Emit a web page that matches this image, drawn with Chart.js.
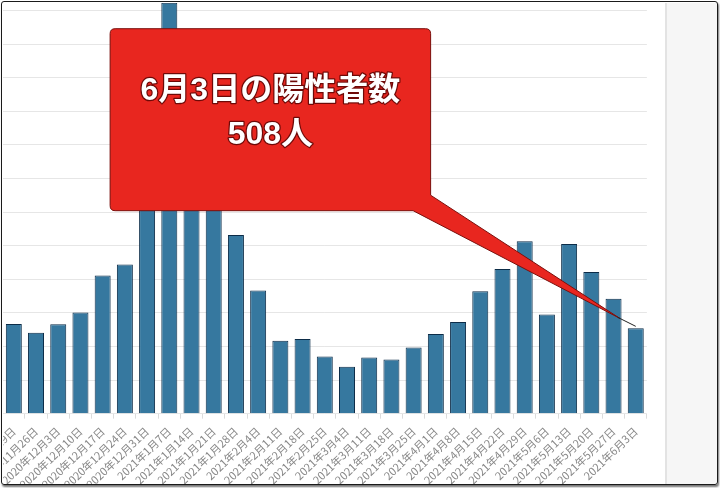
<!DOCTYPE html>
<html>
<head>
<meta charset="utf-8">
<script src="https://cdn.jsdelivr.net/npm/chart.js@4/dist/chart.umd.min.js"></script>
<style>
  html, body { margin: 0; padding: 0; background: #fff; }
  body { width: 720px; height: 488px; position: relative; overflow: hidden; }
  #clip { position: absolute; left: 3px; top: 3px; width: 713px; height: 481px; overflow: hidden; background: #fff; }
  #c { position: absolute; }
  #side { position: absolute; left: 665px; top: 3px; width: 51px; height: 481px; background: #f6f6f6; border-left: 2px solid #e3e3e3; }
  #frame { position: absolute; left: 1px; top: 1px; width: 715px; height: 482px; border: 1.5px solid #1a1a1a; border-radius: 3px; box-shadow: 1px 2px 2px rgba(0,0,0,0.55); pointer-events: none; }
</style>
</head>
<body>
<div id="clip"><canvas id="c"></canvas></div>
<div id="side"></div>
<div id="frame"></div>
<script>
// weekly values (Thursdays), Tokyo new cases
const dates = [
  '2020年11月19日', '2020年11月26日', '2020年12月3日', '2020年12月10日', '2020年12月17日',
  '2020年12月24日', '2020年12月31日', '2021年1月7日', '2021年1月14日', '2021年1月21日',
  '2021年1月28日', '2021年2月4日', '2021年2月11日', '2021年2月18日', '2021年2月25日',
  '2021年3月4日', '2021年3月11日', '2021年3月18日', '2021年3月25日', '2021年4月1日',
  '2021年4月8日', '2021年4月15日', '2021年4月22日', '2021年4月29日', '2021年5月6日',
  '2021年5月13日', '2021年5月20日', '2021年5月27日', '2021年6月3日'
];
const cases = [
  534, 481, 533, 602, 822, 888, 1337, 2447, 1502, 1471,
  1064, 734, 434, 445, 340, 279, 335, 323, 394, 475,
  545, 729, 861, 1027, 591, 1010, 843, 684, 508
];
const calloutLines = ['6月3日の陽性者数', '508人'];

const yMax = 2600;
const yStep = 200;

// where the plot area sits on the page (the shot is cropped, y axis is off screen)
const AREA = { left: 2.6, right: 646.6, top: -23.2, bottom: 413 };
const CLIP = { x: 3, y: 3 };

const calloutPlugin = {
  id: 'callout',
  afterDraw(chart) {
    const ctx = chart.ctx;
    const a = chart.chartArea;
    const px = x => x - AREA.left + a.left;
    const py = y => y - AREA.top + a.top;

    const last = cases.length - 1;
    const tipX = chart.scales.x.getPixelForValue(last);
    const tipY = chart.scales.y.getPixelForValue(cases[last]) - 2;
    const wedgeX = tipX - 16, wedgeY = tipY - 8;

    const l = px(110), t = py(28.5), r = px(430.5), b = py(210.5), rad = 5;

    ctx.save();
    ctx.beginPath();
    ctx.moveTo(l + rad, t);
    ctx.lineTo(r - rad, t);
    ctx.quadraticCurveTo(r, t, r, t + rad);
    ctx.lineTo(r, py(195));
    ctx.lineTo(wedgeX, wedgeY);
    ctx.lineTo(px(413), b);
    ctx.lineTo(l + rad, b);
    ctx.quadraticCurveTo(l, b, l, b - rad);
    ctx.lineTo(l, t + rad);
    ctx.quadraticCurveTo(l, t, l + rad, t);
    ctx.closePath();
    ctx.fillStyle = '#e8261f';
    ctx.fill();
    ctx.lineWidth = 1;
    ctx.strokeStyle = '#7a0f0c';
    ctx.stroke();

    ctx.beginPath();
    ctx.moveTo(wedgeX - 2, wedgeY - 1);
    ctx.lineTo(tipX, tipY);
    ctx.strokeStyle = '#222';
    ctx.lineWidth = 1;
    ctx.stroke();

    ctx.font = 'bold 32px "Liberation Sans", "Noto Sans CJK JP", sans-serif';
    ctx.textAlign = 'center';
    ctx.textBaseline = 'middle';
    ctx.lineJoin = 'round';
    const cx = (l + r) / 2;
    [py(91), py(135)].forEach((y, i) => {
      ctx.lineWidth = 2.5;
      ctx.strokeStyle = 'rgba(70,0,0,0.75)';
      ctx.strokeText(calloutLines[i], cx, y);
      ctx.fillStyle = '#ffffff';
      ctx.fillText(calloutLines[i], cx, y);
    });
    ctx.restore();
  }
};

const canvas = document.getElementById('c');

function build(w, h) {
  canvas.width = w;
  canvas.height = h;
  canvas.style.width = w + 'px';
  canvas.style.height = h + 'px';
  return new Chart(canvas, {
    type: 'bar',
    data: {
      labels: dates,
      datasets: [{
        data: cases,
        backgroundColor: '#36789f',
        borderColor: '#0c2c48',
        borderWidth: 1,
        categoryPercentage: 1,
        barPercentage: 0.72
      }]
    },
    options: {
      responsive: false,
      animation: false,
      devicePixelRatio: 1,
      layout: { padding: 0 },
      plugins: { legend: { display: false }, tooltip: { enabled: false } },
      scales: {
        x: {
          grid: { drawOnChartArea: false, drawTicks: true, tickLength: 5, color: '#dcdcdc' },
          border: { display: false },
          ticks: {
            autoSkip: false,
            minRotation: 44,
            maxRotation: 44,
            padding: 6,
            color: '#888888',
            font: { family: '"Noto Sans CJK JP", sans-serif', size: 11 }
          }
        },
        y: {
          min: 0,
          max: yMax,
          ticks: { stepSize: yStep, display: false },
          grid: { color: '#e6e6e6', drawTicks: false },
          border: { display: false }
        }
      }
    },
    plugins: [calloutPlugin]
  });
}

let w = 720, h = 560;
let chart = build(w, h);
for (let i = 0; i < 2; i++) {
  const a = chart.chartArea;
  w = Math.round(w + (AREA.right - AREA.left) - (a.right - a.left));
  h = Math.round(h + (AREA.bottom - AREA.top) - (a.bottom - a.top));
  chart.destroy();
  chart = build(w, h);
}
const a = chart.chartArea;
canvas.style.left = (AREA.left - CLIP.x - a.left) + 'px';
canvas.style.top = (AREA.top - CLIP.y - a.top) + 'px';
</script>
</body>
</html>
